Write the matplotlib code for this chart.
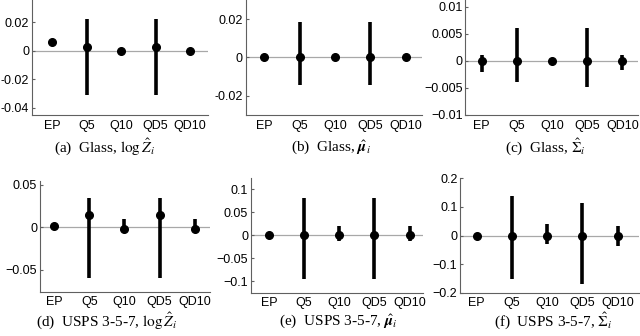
import numpy as np
import matplotlib
matplotlib.use('Agg')
import matplotlib.pyplot as plt

plt.rcParams['font.family'] = 'Liberation Sans'
plt.rcParams['mathtext.fontset'] = 'stix'

methods = ['EP', 'Q5', 'Q10', 'QD5', 'QD10']

# (a) Glass, log Z
glass_logz_mid = [0.0062, 0.0023, 0.0, 0.0023, 0.0]
glass_logz_lo = [0.0062, -0.031, 0.0, -0.031, 0.0]
glass_logz_hi = [0.0062, 0.022, 0.0, 0.022, 0.0]

# (b) Glass, mu
glass_mu_mid = [0.0, 0.0, 0.0, 0.0, 0.0]
glass_mu_lo = [0.0, -0.0145, 0.0, -0.0145, 0.0]
glass_mu_hi = [0.0, 0.0186, 0.0, 0.0186, 0.0]

# (c) Glass, Sigma
glass_sig_mid = [0.0, 0.0, 0.0, 0.0, 0.0]
glass_sig_lo = [-0.002, -0.004, 0.0, -0.0049, -0.0018]
glass_sig_hi = [0.001, 0.006, 0.0, 0.006, 0.001]

# (d) USPS, log Z
usps_logz_mid = [0.0015, 0.0143, -0.002, 0.0143, -0.002]
usps_logz_lo = [0.0015, -0.059, -0.002, -0.059, -0.002]
usps_logz_hi = [0.0015, 0.035, 0.0097, 0.035, 0.0097]

# (e) USPS, mu
usps_mu_mid = [0.0, 0.0, 0.0, 0.0, 0.0]
usps_mu_lo = [0.0, -0.094, -0.012, -0.094, -0.012]
usps_mu_hi = [0.0, 0.081, 0.0196, 0.081, 0.0196]

# (f) USPS, Sigma
usps_sig_mid = [0.0, 0.0, 0.0, 0.0, 0.0]
usps_sig_lo = [-0.008, -0.15, -0.03, -0.167, -0.035]
usps_sig_hi = [0.01, 0.137, 0.04, 0.113, 0.034]

panels = [
    dict(pos=[0.050, 0.658, 0.275, 0.342], mid=glass_logz_mid, lo=glass_logz_lo, hi=glass_logz_hi,
         ylim=(-0.045, 0.0355), yt=[-0.04, -0.02, 0, 0.02], ytl=['-0.04', '-0.02', '0', '0.02'],
         xlim=(0.42, 5.52), cap=r'(a)  Glass, $\log\hat{Z}_i$', cx=104 / 640, cy=1 - 147 / 336),
    dict(pos=[0.384, 0.658, 0.275, 0.342], mid=glass_mu_mid, lo=glass_mu_lo, hi=glass_mu_hi,
         ylim=(-0.030, 0.030), yt=[-0.02, 0, 0.02], ytl=['-0.02', '0', '0.02'],
         xlim=(0.47, 5.46), cap=r'(b)  Glass, $\hat{\boldsymbol{\mu}}_i$', cx=331 / 640, cy=1 - 147 / 336),
    dict(pos=[0.727, 0.658, 0.270, 0.342], mid=glass_sig_mid, lo=glass_sig_lo, hi=glass_sig_hi,
         ylim=(-0.010, 0.0112), yt=[-0.01, -0.005, 0, 0.005, 0.01],
         ytl=['\u22120.01', '\u22120.005', '0', '0.005', '0.01'],
         xlim=(0.53, 5.45), cap=r'(c)  Glass, $\hat{\Sigma}_i$', cx=545 / 640, cy=1 - 147 / 336),
    dict(pos=[0.0625, 0.131, 0.2655, 0.331], mid=usps_logz_mid, lo=usps_logz_lo, hi=usps_logz_hi,
         ylim=(-0.076, 0.0547), yt=[-0.05, 0, 0.05], ytl=['\u22120.05', '0', '0.05'],
         xlim=(0.6, 5.43), cap=r'(d)  USPS 3-5-7, $\log\hat{Z}_i$', cx=107 / 640, cy=1 - 321 / 336),
    dict(pos=[0.392, 0.128, 0.269, 0.342], mid=usps_mu_mid, lo=usps_mu_lo, hi=usps_mu_hi,
         ylim=(-0.125, 0.124), yt=[-0.1, -0.05, 0, 0.05, 0.1],
         ytl=['\u22120.1', '\u22120.05', '0', '0.05', '0.1'],
         xlim=(0.49, 5.38), cap=r'(e)  USPS 3-5-7, $\hat{\boldsymbol{\mu}}_i$', cx=338 / 640, cy=1 - 321 / 336),
    dict(pos=[0.719, 0.128, 0.279, 0.342], mid=usps_sig_mid, lo=usps_sig_lo, hi=usps_sig_hi,
         ylim=(-0.2, 0.2), yt=[-0.2, -0.1, 0, 0.1, 0.2],
         ytl=['\u22120.2', '\u22120.1', '0', '0.1', '0.2'],
         xlim=(0.53, 5.6), cap=r'(f)  USPS 3-5-7, $\hat{\Sigma}_i$', cx=553 / 640, cy=1 - 321 / 336),
]

fig = plt.figure(figsize=(6.4, 3.36), dpi=100)
x = np.arange(1, len(methods) + 1)

for i, p in enumerate(panels):
    ax = fig.add_axes(p['pos'])
    ax.axhline(0, color='#a8a8a8', lw=0.9, zorder=1)
    ax.vlines(x, p['lo'], p['hi'], color='black', lw=2.6, zorder=2)
    ax.plot(x, p['mid'], 'o', color='black', ms=5.5, zorder=3)
    ax.set_xlim(*p['xlim'])
    ax.set_ylim(*p['ylim'])
    ax.set_xticks(x)
    ax.set_xticklabels(methods)
    ax.set_yticks(p['yt'])
    ax.set_yticklabels(p['ytl'])
    for s in ['top', 'right']:
        ax.spines[s].set_visible(False)
    for s in ['left', 'bottom']:
        ax.spines[s].set_color('#606060')
        ax.spines[s].set_linewidth(0.8)
    ax.tick_params(axis='x', length=0, pad=4 if i < 3 else 3, labelsize=9)
    ax.tick_params(axis='y', length=2, direction='in', pad=2, labelsize=9, color='#606060')
    fig.text(p['cx'], p['cy'], p['cap'], ha='center', va='center',
             family='Liberation Serif', fontsize=11)

fig.savefig('out.png', dpi=100)
